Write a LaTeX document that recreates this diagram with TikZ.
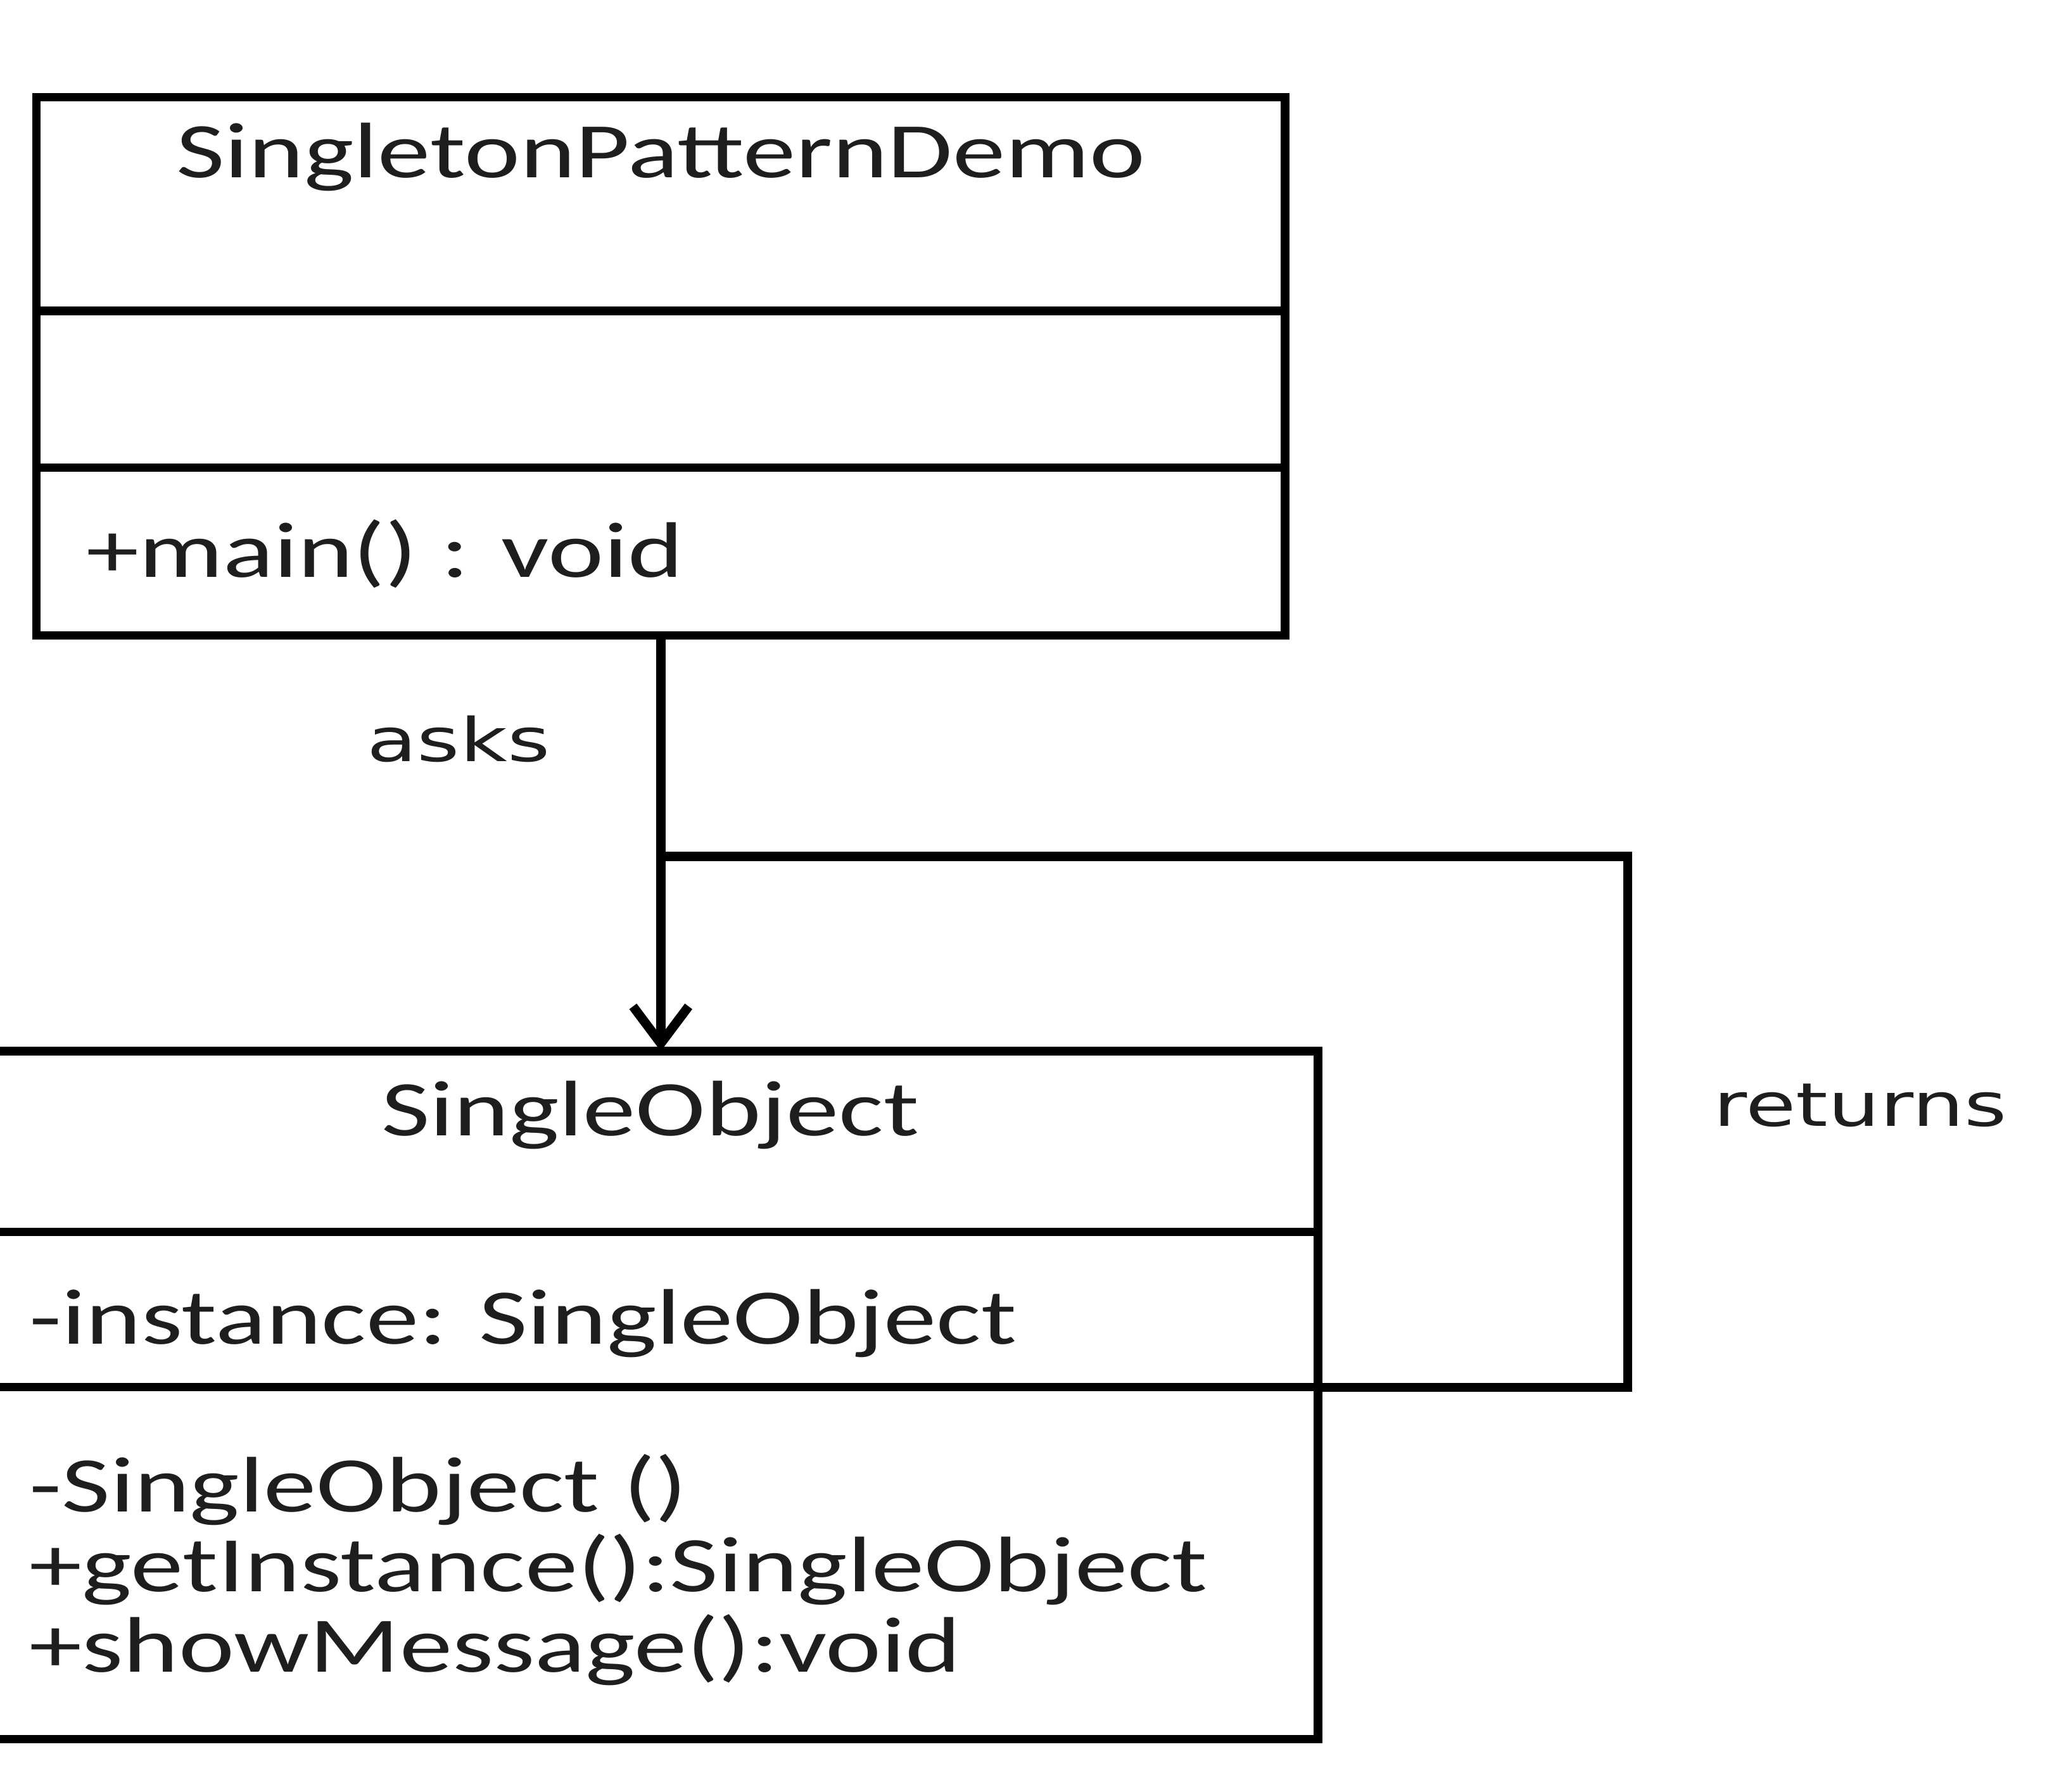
\documentclass[tikz,border=0pt]{standalone}
\usepackage{fontspec}
\setmainfont{Carlito}[FakeStretch=1.34]
\newfontfamily\lblfont{DejaVu Sans}[FakeStretch=1.36]
\usepackage{xcolor}
\definecolor{InkGray}{HTML}{1E1E1E}
\usepackage{tikz}
\usetikzlibrary{arrows.meta,positioning,calc}

\begin{document}
\begin{tikzpicture}[x=0.01cm,y=-0.01cm,
  part/.style={draw,line width=1.8pt,outer sep=0pt,inner sep=0pt},
  txt/.style={inner sep=0pt,text=InkGray,font=\fontsize{17}{17.3}\selectfont},
  lbl/.style={inner sep=0pt,text=InkGray,font=\lblfont\fontsize{13}{15}\selectfont},
  link/.style={line width=2pt,line join=miter},
  arr/.style={link,-{Straight Barb[length=8pt,width=12pt]}}
]
  \useasboundingbox (0,0) rectangle (1568,1360);
  % SingletonPatternDemo class
  \node[part,minimum width=9.47cm,minimum height=1.62cm] (demoname) at (501.5,155) {};
  \node[part,minimum width=9.47cm,minimum height=1.19cm,below=0pt of demoname] (demoattr) {};
  \node[part,minimum width=9.47cm,minimum height=1.27cm,below=0pt of demoattr] (demoops) {};
  \node[txt,anchor=base] (demotitle) at ($(demoname.north)+(0,61)$) {SingletonPatternDemo};
  \node[txt,anchor=base west] (demomain) at ($(demoops.north west)+(37,83)$) {+main() : void};
  % SingleObject class
  \node[part,minimum width=10.05cm,minimum height=1.37cm] (objname) at (497.5,866.5) {};
  \node[part,minimum width=10.05cm,minimum height=1.18cm,below=0pt of objname] (objattr) {};
  \node[part,minimum width=10.05cm,minimum height=2.67cm,below=0pt of objattr] (objops) {};
  \node[txt,anchor=base] (objtitle) at ($(objname.north)+(-4,64)$) {SingleObject};
  \node[txt,anchor=base west] (objinst) at ($(objattr.north west)+(27,85)$) {-instance: SingleObject};
  \node[txt,anchor=north west,align=left] (objmeth) at ($(objops.north west)+(27,50)$)
    {-SingleObject ()\\+getInstance():SingleObject\\+showMessage():void};
  % connectors
  \coordinate (join) at ($(demoops.south)+(0,168)$);
  \draw[arr] (demoops.south) -- (demoops.south |- objname.north);
  \draw[link] (objattr.south east) -- ++(235,0) |- (join);
  \node[lbl,anchor=base] (asks) at (348,578) {asks};
  \node[lbl,anchor=base west] (returns) at (1300,855) {returns};
\end{tikzpicture}
\end{document}
